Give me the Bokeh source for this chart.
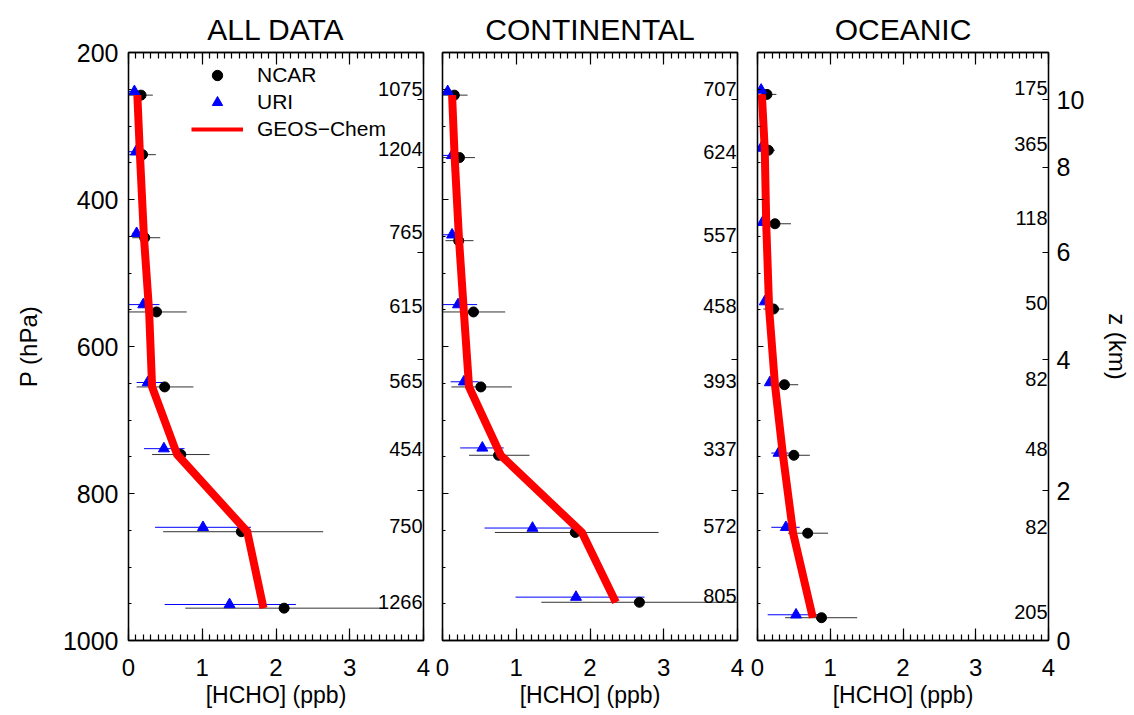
from bokeh.plotting import figure
from bokeh.layouts import row
from bokeh.models import (Range1d, LinearAxis, SingleIntervalTicker, FixedTicker,
                          Legend, LegendItem, Title)
from bokeh.core.properties import value
from bokeh.embed import file_html
from bokeh.resources import INLINE

FONT = "Liberation Sans"

# ---------------- data ----------------
panel_titles = ["ALL DATA", "CONTINENTAL", "OCEANIC"]
X_MIN, X_MAX = 0, 4
P_TOP, P_BOTTOM = 200, 1000
x_ticks = [0, 1, 2, 3, 4]
p_ticks = [200, 400, 600, 800, 1000]

z_km = [0, 2, 4, 6, 8, 10]
p_at_z = [1000, 796, 618, 472, 356, 264]

# ALL DATA
all_ncar_p = [258, 339, 452, 553, 655, 747, 852, 956]
all_uri_p = [253, 335, 446, 543, 649, 739, 846, 951]
all_ncar = [0.17, 0.19, 0.22, 0.38, 0.49, 0.71, 1.53, 2.11]
all_ncar_lo = [-0.02, -0.02, 0.05, -0.02, 0.11, 0.32, 0.47, 0.77]
all_ncar_hi = [0.33, 0.37, 0.43, 0.79, 0.88, 1.10, 2.64, 3.42]
all_uri = [0.08, 0.10, 0.11, 0.20, 0.26, 0.48, 1.01, 1.37]
all_uri_lo = [-0.02, -0.02, 0.05, -0.02, 0.11, 0.21, 0.36, 0.49]
all_uri_hi = [0.15, 0.17, 0.16, 0.42, 0.46, 0.76, 1.66, 2.27]
all_model = [0.12, 0.155, 0.21, 0.28, 0.32, 0.66, 1.61, 1.83]
all_counts = [1075, 1204, 765, 615, 565, 454, 750, 1266]

# CONTINENTAL
con_ncar_p = [258, 343, 456, 553, 655, 748, 853, 948]
con_uri_p = [253, 340, 448, 543, 648, 738, 847, 941]
con_ncar = [0.16, 0.23, 0.22, 0.42, 0.52, 0.76, 1.80, 2.67]
con_ncar_lo = [-0.02, -0.02, 0.04, -0.02, 0.12, 0.36, 0.71, 1.34]
con_ncar_hi = [0.34, 0.44, 0.42, 0.85, 0.94, 1.18, 2.93, 4.20]
con_uri = [0.07, 0.13, 0.13, 0.21, 0.29, 0.54, 1.22, 1.81]
con_uri_lo = [-0.02, -0.02, -0.02, -0.02, 0.11, 0.24, 0.57, 0.99]
con_uri_hi = [0.11, 0.17, 0.18, 0.47, 0.49, 0.83, 1.89, 2.74]
con_model = [0.13, 0.165, 0.225, 0.29, 0.36, 0.79, 1.89, 2.35]
con_counts = [707, 624, 557, 458, 393, 337, 572, 805]

# OCEANIC
oce_ncar_p = [257, 333, 433, 549, 652, 748, 854, 969]
oce_uri_p = [251, 330, 431, 539, 649, 745, 846, 965]
oce_ncar = [0.13, 0.15, 0.24, 0.22, 0.37, 0.50, 0.69, 0.88]
oce_ncar_lo = [0.05, 0.06, 0.09, 0.08, 0.20, 0.29, 0.42, 0.38]
oce_ncar_hi = [0.26, 0.24, 0.46, 0.36, 0.56, 0.72, 0.97, 1.37]
oce_uri = [0.05, 0.05, 0.07, 0.10, 0.17, 0.29, 0.39, 0.53]
oce_uri_lo = [0.02, 0.01, 0.03, 0.07, 0.12, 0.19, 0.19, 0.14]
oce_uri_hi = [0.08, 0.08, 0.10, 0.14, 0.22, 0.43, 0.58, 0.88]
oce_model = [0.06, 0.10, 0.12, 0.16, 0.24, 0.35, 0.49, 0.76]
oce_counts = [175, 365, 118, 50, 82, 48, 82, 205]

panel_data = [
    dict(ncar_p=all_ncar_p, uri_p=all_uri_p, ncar=all_ncar, ncar_lo=all_ncar_lo, ncar_hi=all_ncar_hi,
         uri=all_uri, uri_lo=all_uri_lo, uri_hi=all_uri_hi, model=all_model, counts=all_counts),
    dict(ncar_p=con_ncar_p, uri_p=con_uri_p, ncar=con_ncar, ncar_lo=con_ncar_lo, ncar_hi=con_ncar_hi,
         uri=con_uri, uri_lo=con_uri_lo, uri_hi=con_uri_hi, model=con_model, counts=con_counts),
    dict(ncar_p=oce_ncar_p, uri_p=oce_uri_p, ncar=oce_ncar, ncar_lo=oce_ncar_lo, ncar_hi=oce_ncar_hi,
         uri=oce_uri, uri_lo=oce_uri_lo, uri_hi=oce_uri_hi, model=oce_model, counts=oce_counts),
]

# ---------------- layout ----------------
WIDTHS = [433, 314, 387]
BORDER_L = [128, 9, 10]
BORDER_R = [10, 10, 82]
BORDER_T = 52
BORDER_B = 73
HEIGHT = 52 + 588 + 73


def style_axis(ax, major_in, minor_in, label_size, blank_ticks=None):
    ax.axis_line_color = "black"
    ax.axis_line_width = 1.3
    ax.major_tick_line_color = "black"
    ax.minor_tick_line_color = "black"
    ax.major_tick_line_width = 1.2
    ax.minor_tick_line_width = 1.2
    ax.major_tick_out = 0
    ax.minor_tick_out = 0
    ax.major_tick_in = major_in
    ax.minor_tick_in = minor_in
    ax.major_label_text_font = FONT
    ax.major_label_text_color = "black"
    ax.major_label_text_font_size = label_size
    ax.axis_label_text_font = FONT
    ax.axis_label_text_font_style = "normal"
    ax.axis_label_text_color = "black"
    if blank_ticks is not None:
        ax.major_label_overrides = {t: "" for t in blank_ticks}
        ax.major_label_standoff = 0


figs = []
for i, (title, d) in enumerate(zip(panel_titles, panel_data)):
    p = figure(width=WIDTHS[i], height=HEIGHT,
               x_range=Range1d(X_MIN, X_MAX), y_range=Range1d(P_BOTTOM, P_TOP),
               output_backend="svg", toolbar_location=None,
               x_axis_location=None, y_axis_location=None,
               min_border_left=BORDER_L[i], min_border_right=BORDER_R[i],
               min_border_top=BORDER_T, min_border_bottom=BORDER_B)
    p.grid.visible = False
    p.outline_line_color = "black"
    p.outline_line_width = 1.3
    p.background_fill_color = "white"
    p.border_fill_color = "white"

    p.title = Title(text=title, align="center", text_font=FONT, text_font_size="30px",
                    text_font_style="normal", text_color="black", standoff=13)

    # bottom axis
    xb = LinearAxis(ticker=SingleIntervalTicker(interval=1, num_minor_ticks=10))
    style_axis(xb, 12, 6, "24px")
    xb.major_label_standoff = 18
    xb.axis_label = "[HCHO] (ppb)"
    xb.axis_label_text_font_size = "23px"
    xb.axis_label_standoff = 3
    p.add_layout(xb, "below")

    # top axis (ticks only)
    xt = LinearAxis(ticker=SingleIntervalTicker(interval=1, num_minor_ticks=10))
    style_axis(xt, 12, 6, "2px", blank_ticks=x_ticks)
    p.add_layout(xt, "above")

    # left axis (pressure)
    yl = LinearAxis(ticker=SingleIntervalTicker(interval=200, num_minor_ticks=4))
    if i == 0:
        style_axis(yl, 6, 3, "25px")
        yl.major_label_standoff = 10
        yl.axis_label = "P (hPa)"
        yl.axis_label_text_font_size = "24px"
        yl.axis_label_standoff = 18
    else:
        style_axis(yl, 6, 3, "2px", blank_ticks=p_ticks)
    p.add_layout(yl, "left")

    # right axis (altitude)
    yr = LinearAxis(ticker=FixedTicker(ticks=p_at_z, minor_ticks=[]))
    if i == 2:
        style_axis(yr, 6, 0, "25px")
        yr.major_label_overrides = {pz: str(z) for pz, z in zip(p_at_z, z_km)}
        yr.major_label_standoff = 8
        yr.axis_label = "z (km)"
        yr.axis_label_text_font_size = "24px"
        yr.axis_label_standoff = 17
    else:
        style_axis(yr, 6, 0, "2px", blank_ticks=p_at_z)
    p.add_layout(yr, "right")

    # error bars
    p.segment(x0=d["uri_lo"], x1=d["uri_hi"], y0=d["uri_p"], y1=d["uri_p"],
              line_color="blue", line_width=1)
    p.segment(x0=d["ncar_lo"], x1=d["ncar_hi"], y0=d["ncar_p"], y1=d["ncar_p"],
              line_color="#333333", line_width=1)

    # points
    r_ncar = p.scatter(x=d["ncar"], y=d["ncar_p"], marker="circle", size=10,
                       fill_color="black", line_color="black")
    r_uri = p.scatter(x=d["uri"], y=d["uri_p"], marker="triangle", size=11,
                      fill_color="blue", line_color="blue")

    # model: thin copy (legend swatch, hidden under the thick line) + thick line
    r_leg_line = p.line(x=d["model"], y=d["ncar_p"], line_color="red", line_width=4)
    p.line(x=d["model"], y=d["ncar_p"], line_color="red", line_width=8, line_join="miter")

    # counts
    p.text(x=[X_MAX] * len(d["counts"]), y=d["ncar_p"], text=[str(c) for c in d["counts"]],
           text_align="right", text_baseline="middle", x_offset=-1, y_offset=-6,
           text_font=value(FONT), text_font_size="20px", text_color="black")

    if i == 0:
        legend = Legend(items=[LegendItem(label="NCAR", renderers=[r_ncar]),
                               LegendItem(label="URI", renderers=[r_uri]),
                               LegendItem(label="GEOS\u2212Chem", renderers=[r_leg_line])],
                        location=(63, 498), orientation="vertical",
                        glyph_width=52, glyph_height=26, label_height=26, spacing=1,
                        label_standoff=14, padding=0, margin=0,
                        label_text_font=FONT, label_text_font_size="21px",
                        label_text_color="black",
                        background_fill_alpha=0, border_line_alpha=0)
        p.add_layout(legend)

    figs.append(p)

layout = row(*figs, spacing=0)
open("out.html", "w").write(file_html(layout, INLINE))
